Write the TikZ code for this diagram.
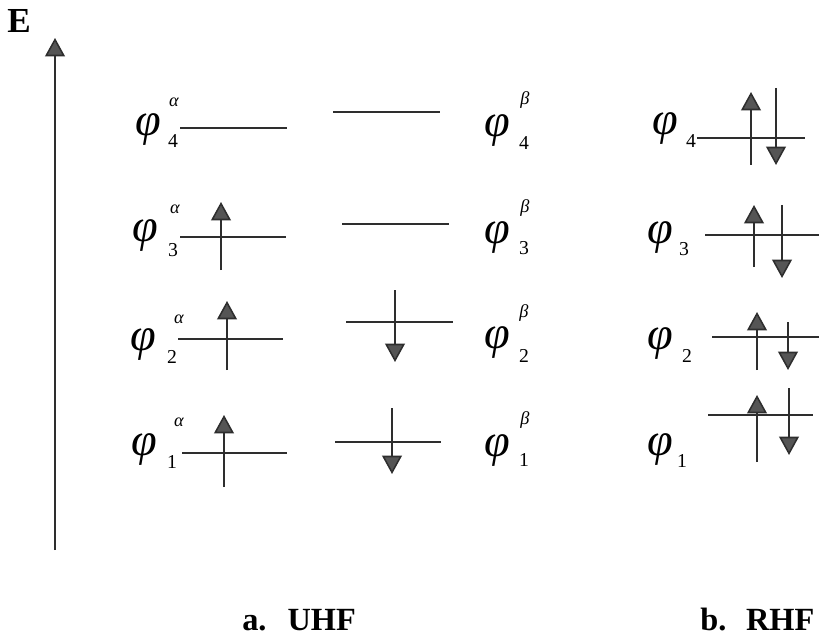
\documentclass[tikz,border=0pt]{standalone}
\usepackage{fontspec}
\setmainfont{Liberation Serif}
\usepackage{tikz}
\usetikzlibrary{arrows.meta}
\definecolor{ink}{HTML}{2E2E2E}
\definecolor{headgray}{HTML}{555555}
\tikzset{
  level/.style={draw=ink, line width=1.1pt},
  spin/.style={draw=ink, line width=1.1pt,
    -{Triangle[length=13pt, width=14pt, fill=headgray]}},
  orb/.style={inner sep=0pt, font=\fontsize{33}{35}\selectfont\itshape},
  spinlabel/.style={inner sep=0pt, font=\fontsize{13}{14}\selectfont\itshape},
  idx/.style={inner sep=0pt, font=\fontsize{14}{15}\selectfont},
  caption/.style={inner sep=0pt, anchor=base west,
    font=\fontsize{23}{25}\selectfont\bfseries},
}
\begin{document}
\begin{tikzpicture}[x=0.025cm, y=-0.025cm]
    \useasboundingbox (0,0) rectangle (819,636);

    % energy axis
    \node[caption, font=\fontsize{25}{27}\selectfont\bfseries] (E) at (7,33) {E};
    \coordinate (axisbot) at (55,550);
    \coordinate (axistop) at (55,38);
    \draw[spin] (axisbot) -- (axistop);

    % UHF: alpha column
    \node[orb] (a4) at (148,129) {φ};
    \node[spinlabel] (a4s) at (174,102) {α};
    \node[idx] (a4i) at (173,141) {4};
    \draw[level] (180,128) -- (287,128);

    \node[orb] (a3) at (145,235) {φ};
    \node[spinlabel] (a3s) at (175,209) {α};
    \node[idx] (a3i) at (173,250) {3};
    \draw[level] (180,237) -- (286,237);
    \draw[spin] (221,270) -- (221,202);

    \node[orb] (a2) at (143,344) {φ};
    \node[spinlabel] (a2s) at (179,319) {α};
    \node[idx] (a2i) at (172,357) {2};
    \draw[level] (178,339) -- (283,339);
    \draw[spin] (227,370) -- (227,301);

    \node[orb] (a1) at (144,449) {φ};
    \node[spinlabel] (a1s) at (179,422) {α};
    \node[idx] (a1i) at (172,462) {1};
    \draw[level] (182,453) -- (287,453);
    \draw[spin] (224,487) -- (224,415);

    % UHF: beta column
    \draw[level] (333,112) -- (440,112);
    \node[orb] (b4) at (497,130) {φ};
    \node[spinlabel] (b4s) at (525,100) {β};
    \node[idx] (b4i) at (524,143) {4};

    \draw[level] (342,224) -- (449,224);
    \node[orb] (b3) at (497,237) {φ};
    \node[spinlabel] (b3s) at (525,208) {β};
    \node[idx] (b3i) at (524,248) {3};

    \draw[level] (346,322) -- (453,322);
    \draw[spin] (395,290) -- (395,362);
    \node[orb] (b2) at (497,342) {φ};
    \node[spinlabel] (b2s) at (524,313) {β};
    \node[idx] (b2i) at (524,356) {2};

    \draw[level] (335,442) -- (441,442);
    \draw[spin] (392,408) -- (392,474);
    \node[orb] (b1) at (497,450) {φ};
    \node[spinlabel] (b1s) at (525,420) {β};
    \node[idx] (b1i) at (524,460) {1};

    % RHF: doubly occupied levels
    \node[orb] (r4) at (665,128) {φ};
    \node[idx] (r4i) at (691,141) {4};
    \draw[level] (697,138) -- (805,138);
    \draw[spin] (751,165) -- (751,92);
    \draw[spin] (776,88) -- (776,165);

    \node[orb] (r3) at (660,237) {φ};
    \node[idx] (r3i) at (684,249) {3};
    \draw[level] (705,235) -- (819,235);
    \draw[spin] (754,267) -- (754,205);
    \draw[spin] (782,205) -- (782,278);

    \node[orb] (r2) at (660,343) {φ};
    \node[idx] (r2i) at (687,356) {2};
    \draw[level] (712,337) -- (819,337);
    \draw[spin] (757,370) -- (757,312);
    \draw[spin] (788,322) -- (788,370);

    \node[orb] (r1) at (660,449) {φ};
    \node[idx] (r1i) at (682,461) {1};
    \draw[level] (708,415) -- (813,415);
    \draw[spin] (757,462) -- (757,395);
    \draw[spin] (789,388) -- (789,455);

    % captions
    \node[caption] (uhf) at (242,630) {a.\hspace{15pt}UHF};
    \node[caption] (rhf) at (700,630) {b.\hspace{14pt}RHF};
\end{tikzpicture}
\end{document}
